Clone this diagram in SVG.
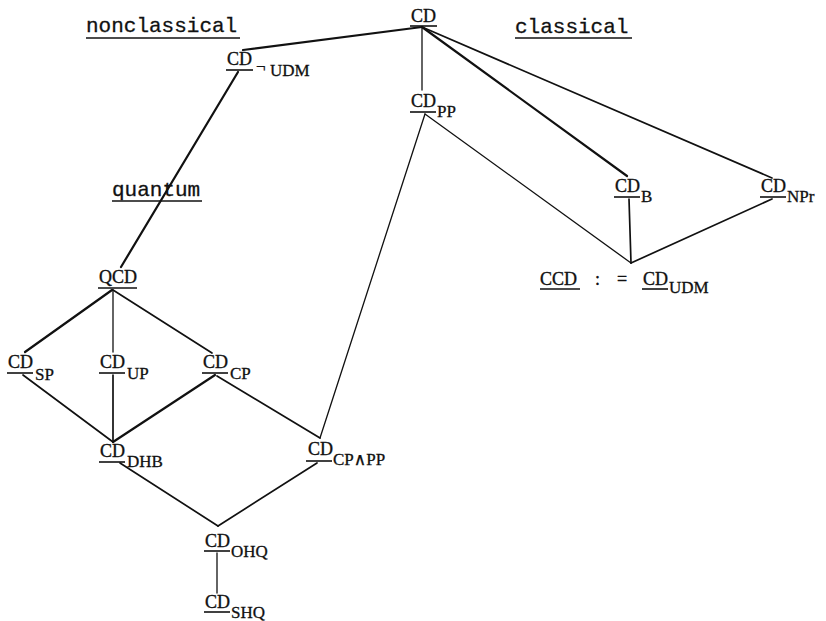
<svg xmlns="http://www.w3.org/2000/svg" width="826" height="621" viewBox="0 0 826 621">
  <style>
    .bg { fill: #ffffff; }
    .hd { font-family: "Liberation Mono", "DejaVu Sans Mono", monospace; font-size: 21px; fill: #111; stroke: #111; stroke-width: 0.3; }
    .n { font-family: "Liberation Serif", "DejaVu Serif", serif; font-size: 18px; fill: #111; stroke: #111; stroke-width: 0.35; }
    .s { font-family: "Liberation Serif", "DejaVu Serif", serif; font-size: 17px; fill: #111; stroke: #111; stroke-width: 0.3; }
    .u { stroke: #111; stroke-width: 1.6; }
    .e { stroke: #111; fill: none; stroke-linecap: round; }
    .t1 { stroke-width: 1.3; }
    .t2 { stroke-width: 1.7; }
    .t3 { stroke-width: 2.2; }
  </style>
  <rect class="bg" x="0" y="0" width="826" height="621"/>

  <!-- headings -->
  <g id="headings">
    <text class="hd" x="86" y="32">nonclassical</text>
    <line class="u" x1="86" y1="38" x2="240" y2="38"/>
    <text class="hd" x="515" y="33">classical</text>
    <line class="u" x1="515" y1="38" x2="632" y2="38"/>
    <text class="hd" x="112" y="196">quantum</text>
    <line class="u" x1="112" y1="201" x2="202" y2="201"/>
  </g>

  <!-- connectors -->
  <g id="connectors">
    <line class="e t3" x1="422" y1="27" x2="243" y2="50"/>
    <line class="e t1" x1="422" y1="27" x2="422" y2="90"/>
    <line class="e t3" x1="422" y1="27" x2="627" y2="176"/>
    <line class="e t2" x1="422" y1="27" x2="772" y2="178"/>
    <line class="e t3" x1="238" y1="72" x2="121" y2="267"/>
    <line class="e t1" x1="425" y1="114" x2="320" y2="438"/>
    <line class="e t1" x1="425" y1="114" x2="631" y2="263"/>
    <line class="e t2" x1="629" y1="199" x2="631" y2="263"/>
    <line class="e t2" x1="772" y1="199" x2="631" y2="263"/>
    <line class="e t3" x1="112" y1="290" x2="25" y2="352"/>
    <line class="e t1" x1="113" y1="290" x2="113" y2="352"/>
    <line class="e t2" x1="113" y1="290" x2="212" y2="353"/>
    <line class="e t2" x1="23" y1="375" x2="113" y2="442"/>
    <line class="e t2" x1="113" y1="375" x2="113" y2="442"/>
    <line class="e t3" x1="215" y1="375" x2="113" y2="442"/>
    <line class="e t2" x1="217" y1="376" x2="320" y2="438"/>
    <line class="e t2" x1="120" y1="463" x2="218" y2="526"/>
    <line class="e t2" x1="317" y1="463" x2="218" y2="526"/>
    <line class="e t1" x1="217" y1="553" x2="217" y2="593"/>
  </g>

  <!-- nodes -->
  <g id="cd">
    <text class="n" x="411" y="22">CD</text>
    <line class="u" x1="410" y1="26" x2="437" y2="26"/>
  </g>
  <g id="cd-not-udm">
    <text class="n" x="227" y="65">CD</text>
    <line class="u" x1="226" y1="70" x2="253" y2="70"/>
    <text class="s" x="256" y="72" font-size="13">¬</text>
    <text class="s" x="270" y="76">UDM</text>
  </g>
  <g id="cd-pp">
    <text class="n" x="411" y="107">CD</text>
    <line class="u" x1="410" y1="112" x2="436" y2="112"/>
    <text class="s" x="437" y="117">PP</text>
  </g>
  <g id="cd-b">
    <text class="n" x="615" y="192">CD</text>
    <line class="u" x1="614" y1="197" x2="640" y2="197"/>
    <text class="s" x="641" y="202">B</text>
  </g>
  <g id="cd-npr">
    <text class="n" x="761" y="192">CD</text>
    <line class="u" x1="760" y1="197" x2="786" y2="197"/>
    <text class="s" x="787" y="202">NPr</text>
  </g>
  <g id="ccd">
    <text class="n" x="540" y="285">CCD</text>
    <line class="u" x1="540" y1="289" x2="580" y2="289"/>
    <text class="n" x="595" y="285">:</text>
    <text class="n" x="617" y="285">=</text>
    <text class="n" x="643" y="285">CD</text>
    <line class="u" x1="642" y1="289" x2="668" y2="289"/>
    <text class="s" x="669" y="293">UDM</text>
  </g>
  <g id="qcd">
    <text class="n" x="99" y="283">QCD</text>
    <line class="u" x1="98" y1="288" x2="137" y2="288"/>
  </g>
  <g id="cd-sp">
    <text class="n" x="8" y="368">CD</text>
    <line class="u" x1="7" y1="373" x2="33" y2="373"/>
    <text class="s" x="35" y="380">SP</text>
  </g>
  <g id="cd-up">
    <text class="n" x="100" y="368">CD</text>
    <line class="u" x1="99" y1="373" x2="125" y2="373"/>
    <text class="s" x="127" y="379">UP</text>
  </g>
  <g id="cd-cp">
    <text class="n" x="203" y="368">CD</text>
    <line class="u" x1="202" y1="373" x2="228" y2="373"/>
    <text class="s" x="230" y="379">CP</text>
  </g>
  <g id="cd-dhb">
    <text class="n" x="100" y="457">CD</text>
    <line class="u" x1="99" y1="462" x2="125" y2="462"/>
    <text class="s" x="127" y="467">DHB</text>
  </g>
  <g id="cd-cp-pp">
    <text class="n" x="308" y="455">CD</text>
    <line class="u" x1="306" y1="461" x2="332" y2="461"/>
    <text class="s" x="333" y="465">CP∧PP</text>
  </g>
  <g id="cd-ohq">
    <text class="n" x="205" y="547">CD</text>
    <line class="u" x1="204" y1="551" x2="230" y2="551"/>
    <text class="s" x="231" y="557">OHQ</text>
  </g>
  <g id="cd-shq">
    <text class="n" x="205" y="608">CD</text>
    <line class="u" x1="204" y1="612" x2="230" y2="612"/>
    <text class="s" x="231" y="618">SHQ</text>
  </g>
</svg>
